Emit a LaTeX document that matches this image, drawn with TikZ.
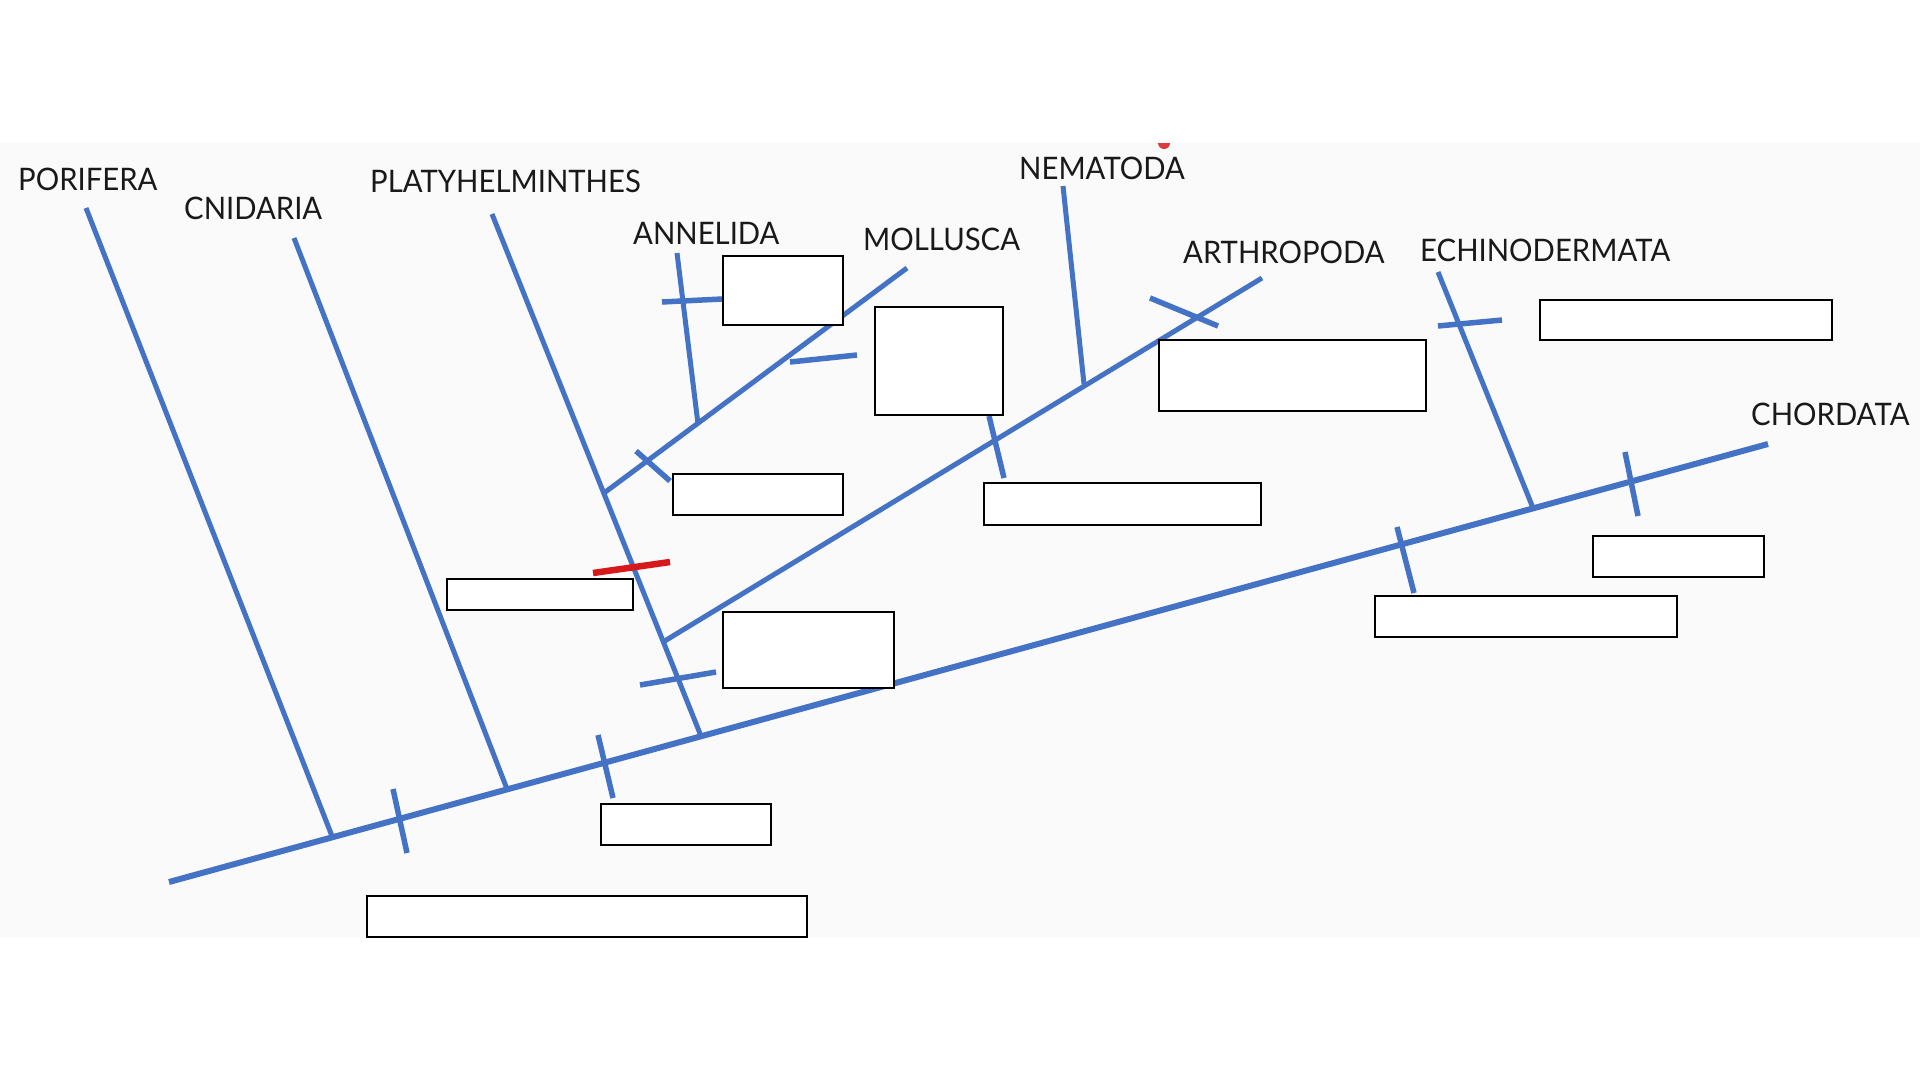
\documentclass[tikz,border=0pt]{standalone}
\usepackage{fontspec}
\setmainfont{Lato}
\definecolor{clade}{HTML}{4472C4}
\definecolor{slidebg}{HTML}{FAFAFA}
\definecolor{redmark}{HTML}{D7191C}
\newcommand{\taxlabel}[1]{\scalebox{0.945}[1]{#1}}
\begin{document}
\begin{tikzpicture}[x=1pt,y=-1pt,
  branch/.style={draw=clade,line width=5pt},
  trunk/.style={draw=clade,line width=6pt},
  tick/.style={draw=clade,line width=5.5pt},
  blank/.style={draw=black,line width=1.8pt,fill=white,inner sep=0pt,anchor=north west},
  taxon/.style={anchor=west,inner sep=0pt,font=\fontsize{31}{36}\selectfont,text=black!90}]
\useasboundingbox (0,0) rectangle (1920,1080);
\fill[white] (0,0) rectangle (1920,1080);
\fill[slidebg] (0,143) rectangle (1920,937);
% coordinates
\coordinate (m0) at (169,882);
\coordinate (m1) at (1768,444);
\coordinate (pT) at (86,208);   \coordinate (pB) at (332,836);
\coordinate (cT) at (294,238);  \coordinate (cB) at (507,789);
\coordinate (plT) at (492,214); \coordinate (plB) at (701,736);
\coordinate (moJ) at (604,493); \coordinate (moT) at (907,268);
\coordinate (anT) at (677,253); \coordinate (anB) at (698,424);
\coordinate (arJ) at (663,642); \coordinate (arT) at (1262,278);
\coordinate (neT) at (1063,186);\coordinate (neB) at (1084,384);
\coordinate (ecT) at (1438,272);\coordinate (ecB) at (1533,508);
% lines
\draw[trunk] (m0) -- (m1);
\draw[branch] (pT) -- (pB);
\draw[branch] (cT) -- (cB);
\draw[branch] (plT) -- (plB);
\draw[branch] (moJ) -- (moT);
\draw[branch] (anT) -- (anB);
\draw[branch] (arJ) -- (arT);
\draw[branch] (neT) -- (neB);
\draw[branch] (ecT) -- (ecB);
% ticks
\coordinate (t1a) at (393,789);  \coordinate (t1b) at (407,853);
\coordinate (t2a) at (598,735);  \coordinate (t2b) at (613,798);
\coordinate (t3a) at (640,685);  \coordinate (t3b) at (716,672);
\coordinate (t4a) at (636,451);  \coordinate (t4b) at (670,481);
\coordinate (t5a) at (662,302);  \coordinate (t5b) at (722,299);
\coordinate (t6a) at (790,362);  \coordinate (t6b) at (857,355);
\coordinate (t7a) at (989,416);  \coordinate (t7b) at (1004,478);
\coordinate (t8a) at (1150,298); \coordinate (t8b) at (1218,326);
\coordinate (t9a) at (1438,326); \coordinate (t9b) at (1502,320);
\coordinate (t10a) at (1397,527);\coordinate (t10b) at (1414,593);
\coordinate (t11a) at (1625,452);\coordinate (t11b) at (1638,516);
\foreach \i in {1,...,11} {\draw[tick] (t\i a) -- (t\i b);}
\coordinate (ra) at (593,573); \coordinate (rb) at (670,562);
\draw[draw=redmark,line width=6.5pt] (ra) -- (rb);
% boxes
\node[blank,minimum width=120pt,minimum height=69pt] (bAn) at (722,255) {};
\node[blank,minimum width=128pt,minimum height=108pt] (bMo) at (874,306) {};
\node[blank,minimum width=170pt,minimum height=41pt] (bMt) at (672,473) {};
\node[blank,minimum width=267pt,minimum height=71pt] (bAr) at (1158,339) {};
\node[blank,minimum width=277pt,minimum height=42pt] (bAt) at (983,482) {};
\node[blank,minimum width=292pt,minimum height=40pt] (bEc) at (1539,299) {};
\node[blank,minimum width=171pt,minimum height=41pt] (bCh) at (1592,535) {};
\node[blank,minimum width=302pt,minimum height=41pt] (bDe) at (1374,595) {};
\node[blank,minimum width=171pt,minimum height=76pt] (bPl) at (722,611) {};
\node[blank,minimum width=186pt,minimum height=31pt] (bRd) at (446,578) {};
\node[blank,minimum width=170pt,minimum height=41pt] (bTi) at (600,803) {};
\node[blank,minimum width=440pt,minimum height=41pt] (bBo) at (366,895) {};
% red dot at top
\begin{scope}
\clip (0,143) rectangle (1920,200);
\fill[redmark,opacity=0.85] (1164,143) circle (6pt);
\end{scope}
% labels
\node[taxon] (lPo) at (18,179) {\taxlabel{PORIFERA}};
\node[taxon] (lCn) at (184,208) {\taxlabel{CNIDARIA}};
\node[taxon] (lPl) at (370,181) {\taxlabel{PLATYHELMINTHES}};
\node[taxon] (lAn) at (633,233) {\taxlabel{ANNELIDA}};
\node[taxon] (lMo) at (863,239) {\taxlabel{MOLLUSCA}};
\node[taxon] (lNe) at (1019,168) {\taxlabel{NEMATODA}};
\node[taxon] (lAr) at (1183,252) {\taxlabel{ARTHROPODA}};
\node[taxon] (lEc) at (1420,250) {\taxlabel{ECHINODERMATA}};
\node[taxon] (lCh) at (1751,414) {\taxlabel{CHORDATA}};
\end{tikzpicture}
\end{document}
